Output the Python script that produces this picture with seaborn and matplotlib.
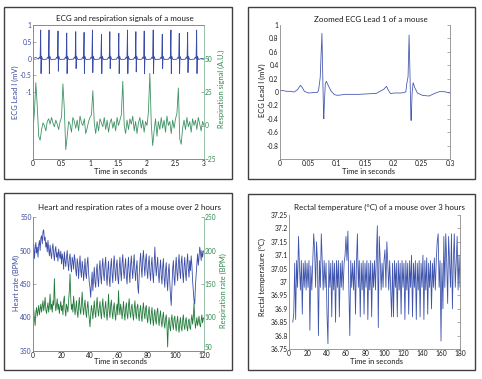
import numpy as np
import pandas as pd
import matplotlib
matplotlib.use("Agg")
import matplotlib.pyplot as plt
import seaborn as sns
from matplotlib.patches import Rectangle

# ---------------- data ----------------
# Panel 1: ECG (mV) and respiration (A.U.) over 3 s
ecg_time = [0.000, 0.050,
    0.095, 0.110, 0.125, 0.135, 0.141, 0.148, 0.170,
    0.241, 0.256, 0.271, 0.281, 0.287, 0.294, 0.316,
    0.399, 0.414, 0.429, 0.439, 0.445, 0.452, 0.474,
    0.552, 0.567, 0.582, 0.592, 0.598, 0.605, 0.627,
    0.710, 0.725, 0.740, 0.750, 0.756, 0.763, 0.785,
    0.856, 0.871, 0.886, 0.896, 0.902, 0.909, 0.931,
    1.003, 1.018, 1.033, 1.043, 1.049, 1.056, 1.078,
    1.161, 1.176, 1.191, 1.201, 1.207, 1.214, 1.236,
    1.308, 1.323, 1.338, 1.348, 1.354, 1.361, 1.383,
    1.466, 1.481, 1.496, 1.506, 1.512, 1.519, 1.541,
    1.618, 1.633, 1.648, 1.658, 1.664, 1.671, 1.693,
    1.765, 1.780, 1.795, 1.805, 1.811, 1.818, 1.840,
    1.911, 1.926, 1.941, 1.951, 1.957, 1.964, 1.986,
    2.069, 2.084, 2.099, 2.109, 2.115, 2.122, 2.144,
    2.228, 2.243, 2.258, 2.268, 2.274, 2.281, 2.303,
    2.380, 2.395, 2.410, 2.420, 2.426, 2.433, 2.455,
    2.526, 2.541, 2.556, 2.566, 2.572, 2.579, 2.601,
    2.673, 2.688, 2.703, 2.713, 2.719, 2.726, 2.748,
    2.831, 2.846, 2.861, 2.871, 2.877, 2.884, 2.906,
    2.950, 3.000]
ecg_mv = [0.00, 0.03,
    -0.02, 0.04, 0.00, 0.85, -0.45, 0.07, -0.03,
    -0.02, 0.04, 0.00, 0.85, -0.45, 0.07, -0.03,
    -0.02, 0.04, 0.00, 0.82, -0.38, 0.07, -0.03,
    -0.02, 0.04, 0.00, 0.76, -0.45, 0.07, -0.03,
    -0.02, 0.04, 0.00, 0.80, -0.30, 0.07, -0.03,
    -0.02, 0.04, 0.00, 0.78, -0.45, 0.07, -0.03,
    -0.02, 0.04, 0.00, 0.85, -0.42, 0.07, -0.03,
    -0.02, 0.04, 0.00, 0.72, -0.45, 0.07, -0.03,
    -0.02, 0.04, 0.00, 0.80, -0.30, 0.07, -0.03,
    -0.02, 0.04, 0.00, 0.75, -0.45, 0.07, -0.03,
    -0.02, 0.04, 0.00, 0.85, -0.45, 0.07, -0.03,
    -0.02, 0.04, 0.00, 0.80, -0.40, 0.07, -0.03,
    -0.02, 0.04, 0.00, 0.82, -0.45, 0.07, -0.03,
    -0.02, 0.04, 0.00, 0.85, -0.45, 0.07, -0.03,
    -0.02, 0.04, 0.00, 0.72, -0.30, 0.07, -0.03,
    -0.02, 0.04, 0.00, 0.85, -0.45, 0.07, -0.03,
    -0.02, 0.04, 0.00, 0.75, -0.45, 0.07, -0.03,
    -0.02, 0.04, 0.00, 0.78, -0.42, 0.07, -0.03,
    -0.02, 0.04, 0.00, 0.85, -0.45, 0.07, -0.03,
    0.00, -0.01]

resp_signal = [-3, 10, 32, 14, -8, -11, -3, 2, 0, -4, 3, 5, 1, 6, 2, -1, 4, 1, -3, 3,
    6, 31, 12, -18, -8, 3, 1, -5, 6, 3, -2, 4, -4, 7, 2, 0, 5, -6, -2, 3,
    6, 8, 26, 2, -6, 3, -4, 5, 2, -1, 6, -3, 4, -5, 2, 5, -2, 3, -4, 6,
    0, 4, 8, 33, 0, -6, 4, -3, 5, 1, 7, -4, 3, -6, 2, 6, -2, 4, -5, 3,
    0, 10, 39, 1, -15, -4, 5, -8, 3, -3, 6, -2, 4, -5, 7, 0, 3, -6, 4, -2,
    5, 9, 28, -10, -14, -2, 4, -3, 6, -1, 3, -5, 5, 0, 4, -3, 6, 1, -4, 3,
    0]

# Panel 2: zoomed ECG Lead I
zoom_time = [0.000, 0.006, 0.012, 0.018, 0.025, 0.031, 0.036, 0.039, 0.043, 0.050,
    0.058, 0.066, 0.068, 0.071, 0.072, 0.074, 0.0755, 0.0767, 0.0773, 0.0785,
    0.0800, 0.0818, 0.0850, 0.0900, 0.0960, 0.1020, 0.1150, 0.1400, 0.1700, 0.1830,
    0.1880, 0.1910, 0.1950, 0.2010, 0.2140, 0.2220, 0.2237, 0.2260, 0.2278, 0.2296,
    0.2308, 0.2314, 0.2331, 0.2349, 0.2378, 0.2425, 0.2513, 0.2630, 0.2720, 0.2810,
    0.2900, 0.3000]
zoom_mv = [0.025, 0.02, 0.01, 0.01, 0.0, 0.035, 0.10, 0.07, 0.01, -0.015,
    -0.01, -0.005, 0.02, 0.22, 0.45, 0.875, 0.22, -0.28, -0.40, -0.12,
    0.125, 0.16, 0.10, 0.015, -0.04, -0.05, -0.035, -0.035, -0.02, 0.04,
    0.085, 0.03, -0.025, -0.015, -0.015, 0.0, 0.125, 0.23, 0.85, 0.18,
    -0.33, -0.425, -0.02, 0.14, 0.065, -0.015, -0.05, -0.06, -0.025, 0.005,
    0.005, -0.015]

# Panel 3: heart rate and respiration rate (BPM), one value every 0.5 s
heart_rate = [495, 510, 488, 503, 512, 496, 505, 490, 508, 515, 500, 518, 522, 510, 528, 531, 515, 520, 505, 512,
    498, 515, 502, 492, 508, 496, 488, 503, 510, 495, 485, 500, 506, 490, 497, 484, 502, 494, 488, 499,
    480, 495, 488, 472, 498, 485, 476, 490, 500, 482, 470, 488, 495, 478, 468, 490, 484, 472, 494, 486,
    470, 462, 488, 480, 458, 478, 492, 470, 460, 484, 475, 455, 470, 488, 466, 458, 480, 490, 468, 452,
    445, 430, 452, 468, 440, 458, 475, 452, 445, 470, 480, 458, 446, 472, 485, 462, 450, 476, 488, 465,
    455, 478, 490, 462, 448, 470, 484, 458, 446, 475, 488, 465, 452, 480, 492, 470, 455, 478, 486, 460,
    450, 472, 490, 468, 455, 482, 494, 470, 458, 476, 488, 462, 450, 474, 490, 466, 452, 478, 492, 472,
    458, 480, 494, 470, 455, 474, 485, 448, 436, 462, 482, 496, 474, 460, 488, 500, 478, 462, 485, 495,
    470, 458, 480, 492, 468, 455, 478, 490, 466, 452, 476, 505, 480, 462, 478, 490, 465, 452, 472, 486,
    462, 450, 475, 488, 460, 445, 470, 482, 455, 440, 468, 480, 452, 432, 418, 445, 472, 485, 460, 448,
    475, 490, 468, 455, 480, 494, 470, 458, 482, 492, 468, 452, 476, 490, 466, 455, 480, 495, 472, 460,
    485, 470, 492, 478, 455, 440, 425, 420, 448, 465, 480, 495, 478, 490, 505, 498, 485, 500, 490, 498,
    500]
resp_rate = [105, 112, 98, 88, 108, 115, 102, 110, 118, 104, 112, 120, 108, 116, 125, 110, 118, 130, 112, 106,
    115, 122, 108, 118, 135, 112, 120, 108, 125, 118, 158, 122, 110, 118, 128, 112, 120, 106, 116, 124,
    110, 118, 104, 125, 132, 112, 102, 120, 115, 108, 126, 140, 165, 128, 112, 120, 108, 132, 118, 104,
    115, 125, 108, 100, 118, 130, 112, 105, 122, 138, 115, 104, 118, 126, 110, 100, 115, 124, 108, 98,
    86, 105, 118, 110, 98, 112, 125, 108, 100, 118, 130, 112, 102, 115, 124, 108, 98, 116, 128, 110,
    100, 114, 124, 106, 96, 112, 135, 110, 100, 118, 126, 108, 98, 115, 122, 106, 96, 112, 120, 104,
    140, 115, 104, 120, 112, 98, 110, 124, 106, 96, 114, 122, 105, 98, 118, 128, 108, 100, 115, 120,
    105, 96, 112, 125, 108, 98, 115, 120, 104, 95, 110, 118, 102, 94, 112, 122, 106, 98, 114, 118,
    100, 92, 108, 116, 100, 90, 106, 115, 98, 88, 104, 112, 96, 90, 108, 114, 98, 88, 102, 110,
    94, 86, 100, 108, 92, 84, 98, 104, 88, 56, 90, 100, 86, 80, 96, 104, 90, 82, 98, 102,
    88, 80, 94, 102, 86, 78, 92, 100, 85, 80, 96, 104, 88, 82, 95, 100, 86, 80, 94, 98,
    86, 82, 96, 104, 90, 100, 122, 98, 84, 92, 100, 88, 94, 102, 90, 86, 96, 104, 92, 98,
    100]

# Panel 4: rectal temperature (deg C), one value per second from t = 4 s
rectal_temp = [36.85, 36.88, 37.07, 36.86, 37.08, 36.98, 37.17, 37.06, 36.97, 37.08,
    36.88, 37.07, 36.98, 37.08, 36.97, 37.07, 36.98, 37.08, 36.82, 37.06,
    36.97, 37.08, 37.18, 37.12, 36.98, 37.15, 37.07, 36.80, 37.08, 36.98,
    37.18, 37.07, 36.97, 37.08, 36.98, 37.07, 36.88, 36.77, 37.08, 36.98,
    37.07, 36.87, 37.08, 36.97, 37.07, 36.85, 37.08, 36.98, 37.08, 36.87,
    37.07, 36.98, 37.08, 36.97, 37.07, 37.10, 37.17, 37.08, 37.19, 36.98,
    36.80, 37.08, 36.98, 37.07, 36.97, 37.08, 36.88, 37.07, 37.18, 36.98,
    37.08, 36.87, 37.07, 36.97, 37.08, 36.88, 37.07, 36.98, 37.08, 36.86,
    37.07, 36.97, 37.08, 36.87, 37.07, 36.98, 37.08, 36.97, 37.10, 37.21,
    36.83, 37.17, 37.08, 36.97, 37.07, 36.98, 37.08, 37.12, 36.98, 37.15,
    37.07, 36.97, 37.08, 36.98, 36.87, 37.07, 36.87, 37.08, 36.98, 37.07,
    36.87, 37.08, 36.97, 37.07, 36.88, 37.08, 36.98, 37.07, 36.86, 37.08,
    36.97, 37.07, 36.88, 37.08, 36.98, 37.10, 36.87, 37.07, 36.98, 37.08,
    36.86, 37.07, 36.97, 37.08, 36.87, 37.07, 36.98, 37.10, 36.86, 37.08,
    36.97, 37.09, 36.88, 37.07, 36.98, 37.08, 36.90, 37.07, 36.98, 37.09,
    36.97, 37.08, 37.15, 37.18, 36.98, 37.08, 36.78, 37.07, 36.90, 37.17,
    36.98, 37.18, 37.08, 36.92, 37.17, 37.07, 36.98, 37.18, 36.90, 37.08,
    37.18, 36.98, 37.08, 37.17, 36.97, 37.10, 36.98]

resp_time = np.linspace(0, 3, len(resp_signal))
rate_time = np.linspace(0, 120, len(heart_rate))
temp_time = np.arange(4, 4 + len(rectal_temp))

p1_left_ticks = [-1, -0.5, 0, 0.5, 1]
p1_left_labels = ["-1", "-0.5", "0", "0.5", "1"]
p1_right_ticks = [-25, 0, 25, 50]
p1_x_ticks = [0, 0.5, 1, 1.5, 2, 2.5, 3]
p1_x_labels = ["0", "0.5", "1", "1.5", "2", "2.5", "3"]
p2_y_ticks = [-0.8, -0.6, -0.4, -0.2, 0, 0.2, 0.4, 0.6, 0.8, 1]
p2_y_labels = ["-0.8", "-0.6", "-0.4", "-0.2", "0", "0.2", "0.4", "0.6", "0.8", "1"]
p2_x_ticks = [0, 0.05, 0.1, 0.15, 0.2, 0.25, 0.3]
p2_x_labels = ["0", "0.05", "0.1", "0.15", "0.2", "0.25", "0.3"]
p3_left_ticks = [350, 400, 450, 500, 550]
p3_right_ticks = [50, 100, 150, 200, 250]
p3_x_ticks = [0, 20, 40, 60, 80, 100, 120]
p4_y_ticks = [36.75, 36.8, 36.85, 36.9, 36.95, 37.0, 37.05, 37.1, 37.15, 37.2, 37.25]
p4_y_labels = ["36.75", "36.8", "36.85", "36.9", "36.95", "37", "37.05", "37.1", "37.15", "37.2", "37.25"]
p4_x_ticks = [0, 20, 40, 60, 80, 100, 120, 140, 160, 180]

# ---------------- style ----------------
sns.set_theme(style="white")
plt.rcParams['font.family'] = ['Lato', 'DejaVu Sans']

BLUE = "#3a4ca6"
GREEN1 = "#3f9366"
GREEN3 = "#217a3a"
BLUE_TXT = "#3b4a9c"
GREEN_TXT = "#2f8a4e"
SPINE = "#8a8a8a"
TXT = "#1a1a1a"
TICK_FS = 4.8
LAB_FS = 5.4
TITLE_FS = 5.8

W, H = 482, 379
fig = plt.figure(figsize=(W / 100, H / 100), dpi=100)
fig.patch.set_facecolor("white")


def ax_px(l, t, r, b):
    return fig.add_axes([l / W, 1 - b / H, (r - l) / W, (b - t) / H])


def frame(l, t, r, b):
    fig.add_artist(Rectangle((l / W, 1 - b / H), (r - l) / W, (b - t) / H,
                             transform=fig.transFigure, fill=False,
                             edgecolor="#404040", lw=1.0))


def ftext(x, y, s, **kw):
    fig.text(x / W, 1 - y / H, s, ha="center", va="center", **kw)


def base_style(ax, top=False, right=False):
    ax.set_facecolor("white")
    for side in ["left", "bottom", "right", "top"]:
        ax.spines[side].set_color(SPINE)
        ax.spines[side].set_linewidth(0.6)
    ax.spines["top"].set_visible(top)
    ax.spines["right"].set_visible(right)
    ax.tick_params(direction="in", length=2, width=0.5, labelsize=TICK_FS,
                   pad=1.0, colors=SPINE, labelcolor=TXT)
    ax.set_xlabel("")
    ax.set_ylabel("")


for fr in [(4, 7, 232, 179), (248, 7, 475, 179), (4, 193, 232, 370), (248, 194, 475, 370)]:
    frame(*fr)

# ---------------- Panel 1 ----------------
ax1 = ax_px(33, 25, 204, 159)
sns.lineplot(x=ecg_time, y=ecg_mv, ax=ax1, color=BLUE, linewidth=0.6,
             estimator=None, sort=False)
ax1.set_xlim(0, 3)
ax1.set_ylim(-3, 1)
base_style(ax1, top=True)
ax1.set_yticks(p1_left_ticks)
ax1.set_yticklabels(p1_left_labels)
ax1.set_xticks(p1_x_ticks)
ax1.set_xticklabels(p1_x_labels)
ax1.tick_params(axis="y", labelcolor=BLUE_TXT)
ax1b = ax1.twinx()
sns.lineplot(x=resp_time, y=resp_signal, ax=ax1b, color=GREEN1, linewidth=0.6,
             estimator=None, sort=False)
ax1b.set_ylim(-25, 75)
base_style(ax1b, top=True, right=True)
ax1b.spines["right"].set_color("#86b79a")
ax1b.set_yticks(p1_right_ticks)
ax1b.tick_params(axis="y", labelcolor=GREEN_TXT, pad=0.5)
ftext(125, 19, "ECG and respiration signals of a mouse", fontsize=TITLE_FS, color=TXT)
ftext(120, 172, "Time in seconds", fontsize=LAB_FS, color=TXT)
ftext(15, 92, "ECG Lead I (mV)", fontsize=LAB_FS, color=BLUE_TXT, rotation=90)
ftext(221, 89, "Respiration signal (A.U.)", fontsize=LAB_FS, color=GREEN_TXT, rotation=90)

# ---------------- Panel 2 ----------------
ax2 = ax_px(280, 25, 450, 159)
sns.lineplot(x=zoom_time, y=zoom_mv, ax=ax2, color="#4a5cb0", linewidth=0.6,
             estimator=None, sort=False)
ax2.set_xlim(0, 0.3)
ax2.set_ylim(-1, 1)
base_style(ax2, right=True)
ax2.set_yticks(p2_y_ticks)
ax2.set_yticklabels(p2_y_labels)
ax2.set_xticks(p2_x_ticks)
ax2.set_xticklabels(p2_x_labels)
ax2.tick_params(axis="y", right=True, labelright=False)
ftext(371, 19, "Zoomed ECG Lead 1 of a mouse", fontsize=TITLE_FS, color=TXT)
ftext(368, 172, "Time in seconds", fontsize=LAB_FS, color=TXT)
ftext(262, 90, "ECG Lead I (mV)", fontsize=LAB_FS, color=TXT, rotation=90)

# ---------------- Panel 3 ----------------
ax3 = ax_px(33, 217, 204, 351)
sns.lineplot(x=rate_time, y=heart_rate, ax=ax3, color=BLUE, linewidth=0.6,
             estimator=None, sort=False)
ax3.set_xlim(0, 120)
ax3.set_ylim(350, 550)
base_style(ax3)
ax3.set_yticks(p3_left_ticks)
ax3.set_xticks(p3_x_ticks)
ax3.tick_params(axis="y", labelcolor=BLUE_TXT)
ax3b = ax3.twinx()
sns.lineplot(x=rate_time, y=resp_rate, ax=ax3b, color=GREEN3, linewidth=0.6,
             estimator=None, sort=False)
ax3b.set_ylim(50, 250)
base_style(ax3b, right=True)
ax3b.spines["right"].set_color("#86b79a")
ax3b.set_yticks(p3_right_ticks)
ax3b.tick_params(axis="y", labelcolor=GREEN_TXT, pad=0.5)
ax3b.get_yticklabels()[0].set_va("bottom")
ftext(130, 207, "Heart and respiration rates of a mouse over 2 hours", fontsize=TITLE_FS, color=TXT)
ftext(120, 362, "Time in seconds", fontsize=LAB_FS, color=TXT)
ftext(16, 283, "Heart rate (BPM)", fontsize=LAB_FS, color=BLUE_TXT, rotation=90)
ftext(223, 291, "Respiration rate (BPM)", fontsize=LAB_FS, color=GREEN_TXT, rotation=90)

# ---------------- Panel 4 ----------------
ax4 = ax_px(289, 215, 460, 349)
sns.lineplot(x=temp_time, y=rectal_temp, ax=ax4, color="#3f55ad", linewidth=0.6,
             estimator=None, sort=False)
ax4.set_xlim(0, 180)
ax4.set_ylim(36.75, 37.25)
base_style(ax4, right=True)
ax4.set_yticks(p4_y_ticks)
ax4.set_yticklabels(p4_y_labels)
ax4.set_xticks(p4_x_ticks)
ax4.tick_params(axis="y", right=True, labelright=False)
ftext(380, 207, "Rectal temperature (\u00b0C) of a mouse over 3 hours", fontsize=TITLE_FS, color=TXT)
ftext(376, 361, "Time in seconds", fontsize=LAB_FS, color=TXT)
ftext(262, 277, "Rectal temperature (\u00b0C)", fontsize=LAB_FS, color=TXT, rotation=90)

fig.savefig("out.png", dpi=100, facecolor="white")
